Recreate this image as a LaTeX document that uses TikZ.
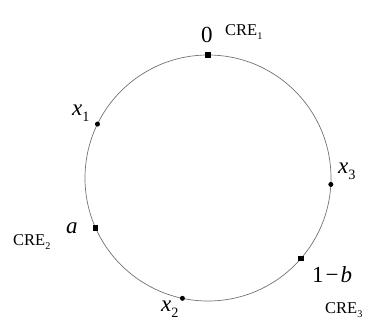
\documentclass[tikz,border=0pt]{standalone}
\usepackage{fontspec}
\setmainfont{Liberation Serif}
\newcommand{\sbs}[1]{\raisebox{-0.28em}{\fontsize{0.62em}{0.7em}\selectfont #1}}
\begin{document}
\begin{tikzpicture}[x=1pt,y=-1pt,
  ring/.style={circle,draw=black!55,line width=0.7pt,minimum size=246pt,inner sep=0pt,outer sep=0pt},
  sq/.style={rectangle,fill=black,minimum size=5.5pt,inner sep=0pt},
  dt/.style={circle,fill=black,minimum size=5pt,inner sep=0pt},
  lbl/.style={anchor=base west,inner sep=0pt,font=\fontsize{23}{26}\selectfont},
  cre/.style={anchor=base west,inner sep=0pt,font=\fontsize{16.5}{19}\selectfont}]
\useasboundingbox (0,0) rectangle (368,322);
\node[ring] (c) at (208,178) {};
\node[sq] (m0) at (c.90) {};
\node[dt] (p1) at (c.154) {};
\node[dt] (p3) at (c.-3) {};
\node[sq] (ma) at (c.-156) {};
\node[sq] (mb) at (c.-41) {};
\node[dt] (p2) at (c.-102) {};
\node[lbl] (l0) at (201,42) {0};
\node[cre] (cre1) at (225,35) {CRE\sbs{1}};
\node[lbl] (lx1) at (72,115) {\textit{x}\sbs{1}};
\node[lbl] (lx3) at (338,173) {\textit{x}\sbs{3}};
\node[lbl] (la) at (66,233) {\textit{a}};
\node[cre] (cre2) at (13,245) {CRE\sbs{2}};
\node[lbl] (lb) at (312,282) {1\kern2pt−\kern2pt\textit{b}};
\node[cre] (cre3) at (325,313) {CRE\sbs{3}};
\node[lbl] (lx2) at (161,311) {\textit{x}\sbs{2}};
\end{tikzpicture}
\end{document}
